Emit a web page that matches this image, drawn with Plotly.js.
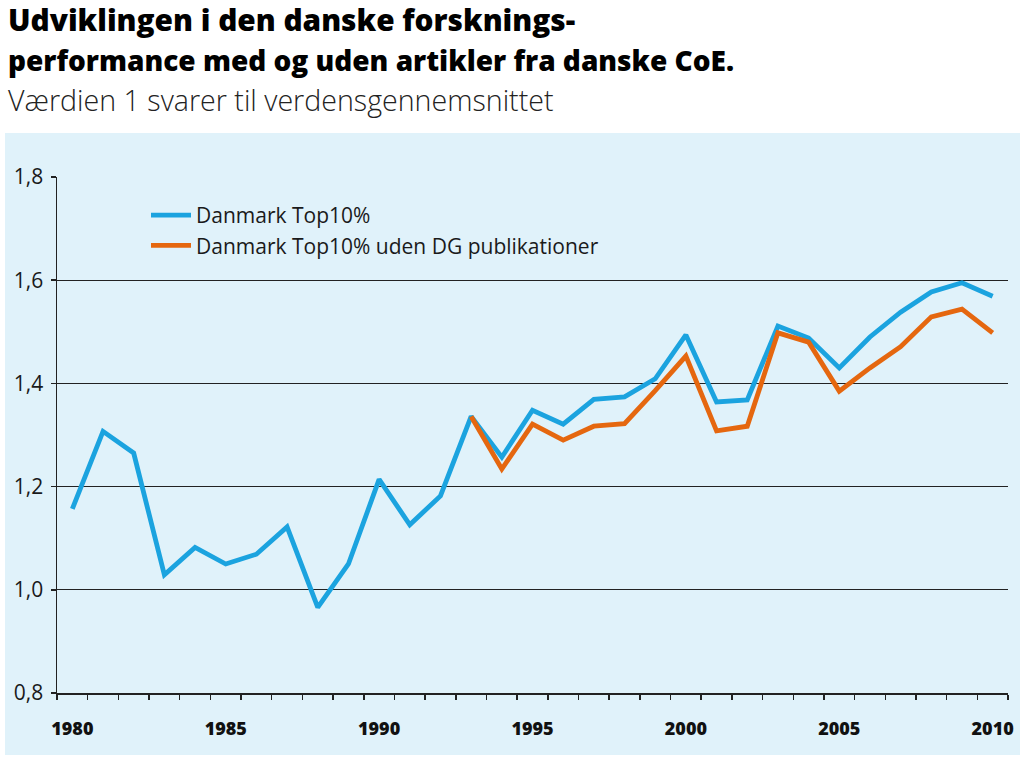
<!DOCTYPE html>
<html>
<head>
<meta charset="utf-8">
<script src="https://cdn.plot.ly/plotly-3.0.1.min.js"></script>
<style>body{margin:0;background:#fff;}#chart{width:1024px;height:763px;}</style>
</head>
<body>
<div id="chart"></div>
<script>
const years = [1980,1981,1982,1983,1984,1985,1986,1987,1988,1989,1990,1991,1992,1993,1994,1995,1996,1997,1998,1999,2000,2001,2002,2003,2004,2005,2006,2007,2008,2009,2010];
const danmarkTop10 = [1.157,1.307,1.265,1.029,1.082,1.050,1.069,1.122,0.966,1.050,1.214,1.126,1.182,1.336,1.257,1.348,1.321,1.369,1.374,1.409,1.494,1.364,1.368,1.511,1.488,1.430,1.490,1.538,1.577,1.595,1.569];
const udenYears = [1993,1994,1995,1996,1997,1998,1999,2000,2001,2002,2003,2004,2005,2006,2007,2008,2009,2010];
const danmarkTop10UdenDG = [1.336,1.234,1.321,1.290,1.317,1.322,1.386,1.453,1.308,1.317,1.498,1.480,1.385,1.430,1.471,1.529,1.544,1.498];
const labelYears = [1980,1985,1990,1995,2000,2005,2010];
const yTicks = [0.8,1.0,1.2,1.4,1.6,1.8];

const FONT = '"Open Sans", "Noto Sans", sans-serif';
const W = 1024, H = 763, L = 57, R = 16, T = 177, B = 70;
const pw = W - L - R, ph = H - T - B;
const px = x => (x - L) / pw;
const py = y => (H - B - y) / ph;

const traces = [
  {x: years, y: danmarkTop10, type: 'scatter', mode: 'lines', name: 'Danmark Top10%',
   line: {color: '#1ba3df', width: 4.8}},
  {x: udenYears, y: danmarkTop10UdenDG, type: 'scatter', mode: 'lines', name: 'Danmark Top10% uden DG publikationer',
   line: {color: '#e5670f', width: 4.8}}
];

const layout = {
  width: W, height: H,
  margin: {l: L, r: R, t: T, b: B},
  paper_bgcolor: '#ffffff',
  plot_bgcolor: 'rgba(0,0,0,0)',
  separators: ', ',
  showlegend: true,
  legend: {x: px(146), y: py(195), xanchor: 'left', yanchor: 'top', bgcolor: 'rgba(0,0,0,0)',
    font: {family: FONT, size: 21, color: '#1a1a1a'}, tracegroupgap: 0, itemwidth: 40},
  xaxis: {range: [1979.5, 2010.5], tickvals: labelYears, ticktext: labelYears.map(String),
    ticks: '', showgrid: false, zeroline: false, showline: true, linecolor: '#222', linewidth: 1.5,
    tickfont: {family: FONT, size: 18, color: '#111', weight: 800}, ticklabelstandoff: 19,
    minor: {tick0: 1979.5, dtick: 1, ticks: 'outside', ticklen: 5, tickcolor: '#222', tickwidth: 1.5, showgrid: false},
    fixedrange: true},
  yaxis: {range: [0.8, 1.8], tickvals: yTicks, tickformat: '.1f', ticks: 'outside', ticklen: 5,
    tickcolor: '#222', tickwidth: 1.5, showgrid: true, gridcolor: '#222', gridwidth: 1.4,
    zeroline: false, showline: true, linecolor: '#222', linewidth: 1.5,
    tickfont: {family: FONT, size: 21, color: '#1a1a1a'}, ticklabelstandoff: 3, fixedrange: true},
  shapes: [
    {type: 'rect', xref: 'paper', yref: 'paper', layer: 'below',
     x0: px(5), x1: px(1020), y0: py(755), y1: py(133),
     fillcolor: '#e0f2fa', line: {width: 0}}
  ],
  annotations: [
    {xref: 'paper', yref: 'paper', x: px(6), y: py(20), xanchor: 'left', yanchor: 'middle', showarrow: false,
     text: 'Udviklingen i den danske forsknings-', font: {family: FONT, size: 29.8, color: '#000', weight: 800}},
    {xref: 'paper', yref: 'paper', x: px(6), y: py(60), xanchor: 'left', yanchor: 'middle', showarrow: false,
     text: 'performance med og uden artikler fra danske CoE.', font: {family: FONT, size: 28, color: '#000', weight: 800}},
    {xref: 'paper', yref: 'paper', x: px(6), y: py(100), xanchor: 'left', yanchor: 'middle', showarrow: false,
     text: 'Værdien 1 svarer til verdensgennemsnittet', font: {family: FONT, size: 28.6, color: '#222', weight: 300}}
  ]
};

Plotly.newPlot('chart', traces, layout, {displayModeBar: false, staticPlot: true});
</script>
</body>
</html>
